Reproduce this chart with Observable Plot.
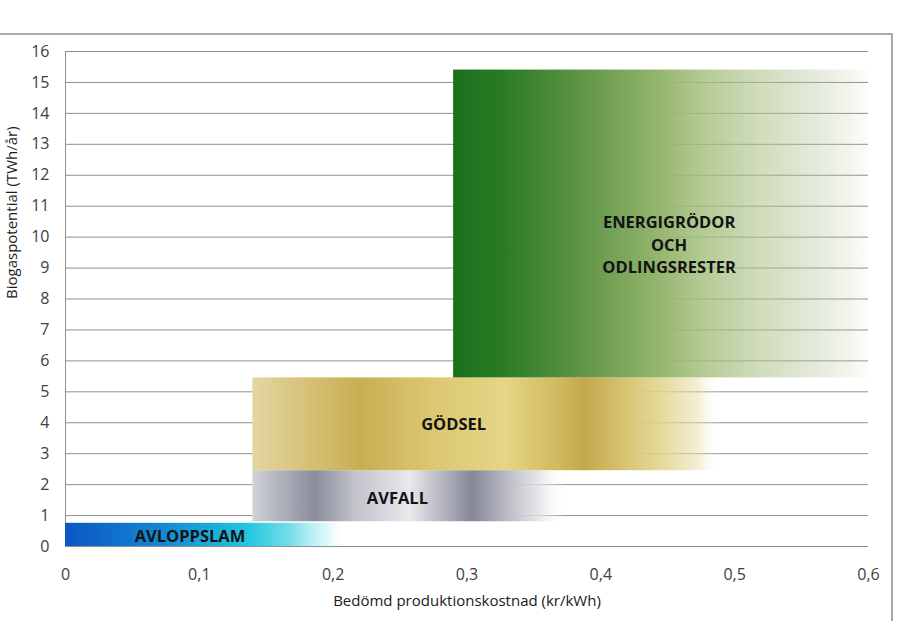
<!DOCTYPE html>
<html>
<head>
<meta charset="utf-8">
<script src="https://cdn.jsdelivr.net/npm/d3@7"></script>
<script src="https://cdn.jsdelivr.net/npm/@observablehq/plot@0.6"></script>
<style>
  html, body { margin: 0; padding: 0; background: #fff; }
  #wrap { position: relative; width: 910px; height: 621px; overflow: hidden; }
  #frame { position: absolute; left: -3px; top: 33px; width: 896px; height: 700px;
           border-top: 2px solid #a9a9a9; border-right: 2px solid #a9a9a9; box-sizing: border-box; }
  #chart { position: absolute; left: 0; top: 0; }
</style>
</head>
<body>
<div id="wrap"><div id="frame"></div><div id="chart"></div></div>
<script>
// ---- data ----
const categories = ["AVLOPPSLAM", "AVFALL", "GÖDSEL", "ENERGIGRÖDOR\nOCH\nODLINGSRESTER"];
const costMin = [0, 0.14, 0.14, 0.29];
const costMax = [0.21, 0.375, 0.49, 0.6];
const potentialMin = [0, 0.8, 2.45, 5.45];
const potentialMax = [0.75, 2.45, 5.45, 15.4];
const labelCost = [0.093, 0.248, 0.29, 0.451];
const labelPotential = [0.38, 1.6, 4.0, 9.8];
const xTicks = [0, 0.1, 0.2, 0.3, 0.4, 0.5, 0.6];
const xTickLabels = ["0", "0,1", "0,2", "0,3", "0,4", "0,5", "0,6"];
const yTicks = [0, 1, 2, 3, 4, 5, 6, 7, 8, 9, 10, 11, 12, 13, 14, 15, 16];
const xTitle = "Bedömd produktionskostnad (kr/kWh)";
const yTitle = "Biogaspotential (TWh/år)";

// ---- gradient styles ----
const gradients = [
  [[0, "#0b57c3", 1], [0.35, "#1488d3", 1], [0.65, "#22c6de", 1], [0.8, "#5ad8e6", 0.85], [0.93, "#b8eef4", 0.5], [1, "#ffffff", 0]],
  [[0, "#d2d3d9", 1], [0.08, "#b3b5be", 1], [0.2, "#8a8c9c", 1], [0.33, "#c3c4cc", 1], [0.5, "#e9e9ec", 1], [0.6, "#b6b7c1", 1],
   [0.7, "#858797", 1], [0.8, "#b5b6c0", 1], [0.9, "#dcdce0", 0.85], [1, "#ffffff", 0]],
  [[0, "#e3d6a3", 1], [0.1, "#d8c47c", 1], [0.23, "#c8ad53", 1], [0.38, "#dbc771", 1], [0.54, "#e6d587", 1], [0.63, "#d5bf66", 1],
   [0.71, "#c4a94b", 1], [0.8, "#d9c575", 1], [0.88, "#e3d48e", 0.85], [0.95, "#e8dca4", 0.5], [1, "#ffffff", 0]],
  [[0, "#1b6f1b", 1], [0.12, "#2a7b25", 1], [0.3, "#5c9345", 1], [0.5, "#96b670", 1], [0.6, "#a1bd79", 0.8],
   [0.75, "#adc18a", 0.55], [0.9, "#b2c398", 0.3], [1, "#b8c8a0", 0.05]]
];

const rows = categories.map((c, i) => ({
  name: c, costMin: costMin[i], costMax: costMax[i],
  potMin: potentialMin[i], potMax: potentialMax[i],
  lx: labelCost[i], ly: labelPotential[i]
}));

const defsMark = () => {
  const defs = d3.create("svg:defs");
  gradients.forEach((stops, i) => {
    const g = defs.append("linearGradient").attr("id", "grad" + i)
      .attr("x1", "0").attr("x2", "1").attr("y1", "0").attr("y2", "0");
    stops.forEach(([o, c, op]) => g.append("stop").attr("offset", o).attr("stop-color", c).attr("stop-opacity", op));
  });
  return defs.node();
};

const chart = Plot.plot({
  width: 910,
  height: 621,
  marginLeft: 65,
  marginRight: 42,
  marginTop: 51,
  marginBottom: 75,
  style: { fontFamily: "'Open Sans', sans-serif", fontSize: "15px", color: "#404040", background: "transparent" },
  x: { domain: [0, 0.6] },
  y: { domain: [0, 16] },
  marks: [
    defsMark,
    Plot.ruleY(yTicks, { stroke: "#8f8f8f", strokeWidth: 1 }),
    Plot.ruleX([0], { stroke: "#8f8f8f", strokeWidth: 1 }),
    ...rows.map((r, i) => Plot.rect([r], {
      x1: "costMin", x2: "costMax", y1: "potMin", y2: "potMax", fill: `url(#grad${i})`
    })),
    Plot.text(rows, {
      x: "lx", y: "ly", text: "name", fontWeight: "bold", fontSize: 16.5, fill: "#141414",
      lineHeight: 1.36, lineAnchor: "middle"
    }),
    Plot.axisY({ ticks: yTicks, tickSize: 0, tickPadding: 16, label: null, fill: "#404040", fontSize: 16 }),
    Plot.axisX({ ticks: xTicks, tickSize: 0, tickPadding: 22, label: null, fill: "#404040", fontSize: 16,
      tickFormat: d => xTickLabels[xTicks.indexOf(d)] }),
    Plot.text([yTitle], { frameAnchor: "left", dx: -53, rotate: -90, fontSize: 15, fill: "#1a1a1a" }),
    Plot.text([xTitle], { frameAnchor: "bottom", dy: 59, fontSize: 15, fill: "#1a1a1a" })
  ]
});
document.getElementById("chart").appendChild(chart);
</script>
</body>
</html>
